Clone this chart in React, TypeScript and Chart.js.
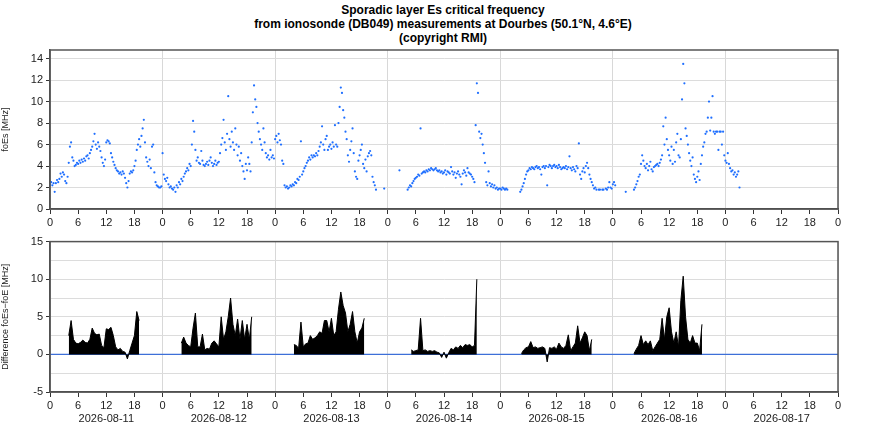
import React, { useEffect, useRef } from "react";
import { Chart, registerables } from "chart.js";
Chart.register(...registerables);

const DATES = ["2026-08-11", "2026-08-12", "2026-08-13", "2026-08-14", "2026-08-15", "2026-08-16", "2026-08-17"];
const TOP_Y_TICKS = [0, 2, 4, 6, 8, 10, 12, 14];
const N = null;
// foEs values, every 15 minutes per day
const FOES_D1 = [2.3,2.5,2.2,2.4, 1.6,2.4,2.7,2.5, 2.8,3.3,3.0,3.4, 3.2,2.6,2.4,3.0, 4.3,5.8,6.2,4.8, 4.5,4.0,4.1,4.3, 4.2,4.5,4.3,4.6, 4.4,4.7,4.5,4.9, 5.0,4.7,5.2,5.5, 5.8,6.3,7.0,6.0, 5.6,6.2,5.8,5.4, 4.8,4.3,4.0,4.6, 6.2,6.4,6.3,6.1, 5.2,4.8,4.4,4.1, 3.8,3.6,3.5,3.3, 3.4,3.2,3.5,3.3, 2.9,2.4,2.0,2.6, 3.3,3.5,3.4,3.6, 4.0,4.5,5.5,6.0, 6.5,5.8,6.8,7.5, 8.3,6.2,4.8,4.4, 4.0,4.6,3.8,5.8, 6.0,3.4,2.5,2.2, 2.1,2.0,2.0,2.1];
const FOES_D2 = [5.2,3.2,2.8,2.6, 2.9,2.3,2.0,2.1, 1.9,1.8,2.0,1.6, 2.2,2.0,2.5,2.3, 2.8,2.6,3.0,3.3, 3.5,3.8,3.6,4.2, 4.0,6.0,8.2,7.2, 5.5,4.5,4.8,4.3, 4.2,5.4,4.5,4.1, 4.0,4.2,4.4,4.1, 4.5,4.8,4.3,4.0, 4.2,4.5,4.1,4.3, 4.4,5.2,6.0,6.6, 8.3,6.2,5.5,7.0, 10.5,6.5,5.8,7.2, 6.2,5.5,7.5,6.0, 5.0,5.8,4.5,5.2, 4.0,3.5,2.8,4.2, 3.6,4.8,4.2,3.5, 6.2,9.0,11.5,10.2, 9.5,8.0,7.2,6.5, 6.0,5.5,7.5,6.2, 5.2,4.8,5.0,4.6, 5.5,4.8,5.0,4.7];
const FOES_D3 = [6.5,6.8,6.2,7.0, 6.4,6.0,4.5,4.2, 2.2,2.0,2.1,1.9, 2.0,2.2,2.1,2.3, 2.2,2.5,2.4,2.8, 2.7,3.0,6.3,3.2, 3.5,3.8,4.0,4.3, 4.5,4.8,4.6,5.0, 4.8,5.0,4.9,5.2, 5.0,5.4,5.8,6.2, 7.7,6.0,5.5,6.5, 6.8,5.5,5.8,6.0, 5.6,6.2,5.8,7.8, 6.0,5.8,8.0,9.5, 11.3,10.8,9.2,8.5, 7.2,6.5,5.0,4.4, 5.5,6.3,7.5,5.2, 3.5,3.0,2.8,4.5, 5.0,5.5,6.0,4.2, 3.8,4.6,3.5,4.9, 5.2,5.4,5.0,3.0, 2.5,2.2,1.8,N, N,N,N,N, N,1.9,N,N];
const FOES_D4 = [N,N,N,N, N,N,N,N, N,N,3.6,N, N,N,N,N, N,1.8,2.0,2.2, 2.1,2.4,2.6,2.8, 2.9,3.0,3.2,3.1, 7.5,3.3,3.4,3.5, 3.4,3.6,3.5,3.7, 3.6,3.8,3.7,3.6, 3.7,3.8,3.6,3.5, 3.6,3.4,3.5,3.3, 3.4,3.6,3.2,3.5, 3.4,3.3,3.9,3.5, 3.2,3.4,2.9,3.3, 3.5,3.2,3.0,2.3, 3.3,3.6,3.4,3.1, 3.8,3.4,3.3,3.2, 3.0,2.8,2.5,7.8, 11.7,10.8,7.2,6.6, 7.0,6.0,5.2,4.3, 2.5,2.2,3.5,2.4, 2.1,2.3,2.0,2.2, 1.9,2.0,1.8,1.9];
const FOES_D5 = [1.9,1.8,2.0,1.9, 1.8,1.9,1.8,N, N,N,N,N, N,N,N,N, N,1.6,1.8,2.1, 2.4,2.8,3.2,3.5, 3.6,3.8,3.7,3.9, 3.8,3.7,3.9,4.0, 3.8,3.9,3.7,3.2, 3.9,4.0,3.8,4.0, 2.2,3.9,4.1,4.0, 3.8,4.0,4.1,3.9, 4.0,3.8,4.1,3.9, 3.7,3.8,3.9,3.8, 4.0,3.7,3.9,4.9, 3.8,3.6,3.9,3.7, 3.5,4.0,3.8,6.1, 3.2,2.8,3.5,3.8, 3.4,4.0,4.3,3.8, 3.2,2.8,2.5,2.2, 1.9,2.0,1.8,N, 1.8,1.8,N,1.8, 1.8,N,1.9,1.8, 2.0,2.5,2.0,1.9];
const FOES_D6 = [2.3,2.5,2.2,N, N,N,N,N, N,N,N,1.6, N,N,N,N, N,N,1.8,2.0, 2.3,2.6,3.0,3.2, 4.2,5.0,4.5,4.0, 3.8,4.2,3.6,4.0, 4.4,3.7,3.5,3.9, 4.0,4.1,4.2,4.0, 4.3,4.6,5.0,7.7, 6.0,8.5,6.5,5.5, 5.0,4.5,5.8,4.2, 5.5,4.4,6.2,7.0, 5.0,4.8,6.5,10.2, 13.5,11.7,7.5,6.8, 6.0,5.2,4.5,4.0, 4.8,3.2,2.8,2.5, 3.0,3.5,2.7,4.2, 5.0,5.8,6.2,7.0, 7.2,8.5,10.0,7.3, 8.5,10.5,7.2,7.0, 7.2,7.2,5.5,7.2, 7.2,6.0,7.2,5.0];
const FOES_D7 = [4.5,4.3,5.2,4.2, 3.8,3.5,3.6,3.2, 3.4,3.0,3.2,3.5, 2.0];
const FOES_DAYS = [FOES_D1, FOES_D2, FOES_D3, FOES_D4, FOES_D5, FOES_D6, FOES_D7];

// foEs - foE, every 30 minutes per day
const DIFF_D1 = [N,N,N,N,N,N,N,N, 2.5,4.5,2.0,1.5,1.4,1.6,1.9,1.6,1.5,2.0,3.5,2.8,2.6,2.7,1.2,0.9,3.4,3.3,3.6,2.5,1.0,0.6,0.8,0.4,0.3,-0.6,0.5,1.5,2.5,5.7,4.5, N,N,N,N,N,N,N,N,N];
const DIFF_D2 = [N,N,N,N,N,N,N,N, 1.5,2.3,1.5,1.2,1.0,3.5,5.5,1.0,1.0,2.7,0.6,0.8,0.7,1.5,1.8,1.4,1.0,5.0,2.0,3.0,5.0,7.5,4.0,2.5,4.7,2.0,4.5,2.0,4.0,2.0,5.0, N,N,N,N,N,N,N,N,N];
const DIFF_D3 = [N,N,N,N,N,N,N,N, 1.3,1.2,0.8,4.3,1.0,1.4,1.5,2.5,2.0,2.2,2.5,3.0,2.8,4.5,4.5,3.0,4.8,2.5,3.0,6.0,8.3,6.5,5.5,3.0,4.0,5.7,3.0,1.5,3.0,3.5,4.8, N,N,N,N,N,N,N,N,N];
const DIFF_D4 = [N,N,N,N,N,N,N,N,N,N, 0.6,0.4,0.5,0.6,4.8,0.5,0.6,0.4,0.5,0.4,0.5,0.3,0.2,-0.4,0.3,-0.5,0.2,0.8,0.6,1.0,0.8,1.2,0.9,1.3,1.2,1.3,1.0,1.2,10.0, N,N,N,N,N,N,N,N,N];
const DIFF_D5 = [N,N,N,N,N,N,N,N,N, 0.1,0.6,0.9,1.0,1.7,0.9,1.0,0.8,0.9,1.0,0.8,-1.0,0.9,0.8,1.0,0.7,1.5,1.0,0.8,1.2,2.6,0.5,1.0,1.5,3.8,1.5,2.2,3.0,2.5,0.5,2.0, N,N,N,N,N,N,N,N];
const DIFF_D6 = [N,N,N,N,N,N,N,N,N, 0.1,0.7,1.2,2.5,1.3,1.8,1.3,1.8,0.5,1.0,1.5,2.0,4.8,2.0,5.0,6.2,3.0,1.5,3.0,1.0,7.2,10.4,5.0,2.0,1.5,2.5,1.5,1.5,0.5,4.0, N,N,N,N,N,N,N,N,N];
const DIFF_DAYS = [DIFF_D1, DIFF_D2, DIFF_D3, DIFF_D4, DIFF_D5, DIFF_D6];

const FONT = "'Liberation Sans', Arial, sans-serif";

function toPoints(days: (number | null)[][], step: number) {
  const pts: { x: number; y: number | null }[] = [];
  days.forEach((arr, d) => arr.forEach((v, i) => pts.push({ x: d * 24 + i * step, y: v })));
  return pts;
}

const boxPlugin = {
  id: "box",
  afterDraw(chart: any) {
    const { ctx, chartArea: a } = chart;
    ctx.save();
    ctx.strokeStyle = "#555";
    ctx.lineWidth = 1.5;
    ctx.strokeRect(a.left, a.top, a.right - a.left, a.bottom - a.top);
    ctx.restore();
  },
};

function xScale(withDates: boolean, height: number) {
  return {
    type: "linear",
    min: 0,
    max: 168,
    afterFit: (s: any) => { s.height = height; },
    ticks: {
      stepSize: 6,
      autoSkip: false,
      maxRotation: 0,
      color: "#222",
      font: { family: FONT, size: 11 },
      padding: 2,
      callback: (v: number) => {
        const h = v % 24;
        const d = Math.floor(v / 24);
        if (withDates && h === 12 && d < DATES.length) return [String(h), DATES[d]];
        return String(h);
      },
    },
    grid: {
      color: (c: any) => (c.tick && c.tick.value % 24 === 0 ? "#d8d8d8" : "rgba(0,0,0,0)"),
      tickColor: "#333",
      tickLength: 5,
      lineWidth: 1,
    },
    border: { color: "#444", width: 1.5 },
  };
}

function TopChart() {
  const ref = useRef<HTMLCanvasElement>(null);
  useEffect(() => {
    const chart = new Chart(ref.current!, {
      type: "scatter",
      data: {
        datasets: [{
          data: toPoints(FOES_DAYS, 0.25) as any,
          backgroundColor: "#1f6fff",
          borderColor: "#1f6fff",
          pointRadius: 1.1,
          pointBorderWidth: 0,
        }],
      },
      options: {
        animation: false,
        responsive: false,
        maintainAspectRatio: false,
        layout: { padding: { top: 50, right: 48, bottom: 0, left: 0 } },
        plugins: { legend: { display: false }, tooltip: { enabled: false } },
        scales: {
          x: xScale(false, 23) as any,
          y: {
            min: 0,
            max: 14.8,
            afterFit: (s: any) => { s.width = 50; },
            afterBuildTicks: (s: any) => { s.ticks = TOP_Y_TICKS.map((v) => ({ value: v })); },
            ticks: { color: "#222", font: { family: FONT, size: 11 }, padding: 3, callback: (v: number) => String(v) },
            grid: { color: "#dcdcdc", tickColor: "#333", tickLength: 4 },
            border: { color: "#444", width: 1.5 },
            title: { display: true, text: "foEs [MHz]", font: { family: FONT, size: 9 }, color: "#222", padding: 0 },
          },
        },
      },
      plugins: [boxPlugin],
    });
    return () => chart.destroy();
  }, []);
  return <canvas ref={ref} width={886} height={232} style={{ position: "absolute", left: 0, top: 0, width: 886, height: 232 }} />;
}

function BottomChart() {
  const ref = useRef<HTMLCanvasElement>(null);
  useEffect(() => {
    const chart = new Chart(ref.current!, {
      type: "line",
      data: {
        datasets: [
          {
            data: toPoints(DIFF_DAYS, 0.5) as any,
            borderColor: "#000",
            backgroundColor: "#000",
            borderWidth: 1,
            pointRadius: 0,
            fill: "origin",
            spanGaps: false,
            order: 1,
          },
          {
            data: [{ x: 0, y: 0 }, { x: 168, y: 0 }],
            borderColor: "#3d6fd8",
            borderWidth: 1.2,
            pointRadius: 0,
            fill: false,
            order: 2,
          },
        ],
      },
      options: {
        animation: false,
        responsive: false,
        maintainAspectRatio: false,
        layout: { padding: { top: 9, right: 48, bottom: 4, left: 0 } },
        plugins: { legend: { display: false }, tooltip: { enabled: false } },
        scales: {
          x: xScale(true, 44) as any,
          y: {
            min: -5,
            max: 15,
            afterFit: (s: any) => { s.width = 50; },
            ticks: { stepSize: 2.5, autoSkip: false, color: "#222", font: { family: FONT, size: 11 }, padding: 3,
              callback: (v: number) => (v % 5 === 0 ? String(v) : "") },
            grid: {
              color: "#dcdcdc",
              tickColor: (c: any) => (c.tick && c.tick.value % 5 === 0 ? "#333" : "rgba(0,0,0,0)"),
              tickLength: 4,
            },
            border: { color: "#444", width: 1.5 },
            title: { display: true, text: "Difference foEs−foE [MHz]", font: { family: FONT, size: 9 }, color: "#222", padding: 0 },
          },
        },
      },
      plugins: [boxPlugin],
    });
    return () => chart.destroy();
  }, []);
  return <canvas ref={ref} width={886} height={208} style={{ position: "absolute", left: 0, top: 232, width: 886, height: 208 }} />;
}

export default function App() {
  useEffect(() => { document.body.style.margin = "0"; }, []);
  const t: React.CSSProperties = { position: "absolute", left: 0, width: 886, textAlign: "center", fontFamily: FONT, fontWeight: "bold", fontSize: 12, lineHeight: "14px", color: "#000" };
  return (
    <div style={{ position: "relative", width: 886, height: 440, background: "#fff", overflow: "hidden" }}>
      <div style={{ ...t, top: 3 }}>Sporadic layer Es critical frequency</div>
      <div style={{ ...t, top: 17 }}>from ionosonde (DB049) measurements at Dourbes (50.1°N, 4.6°E)</div>
      <div style={{ ...t, top: 31 }}>(copyright RMI)</div>
      <TopChart />
      <BottomChart />
    </div>
  );
}
